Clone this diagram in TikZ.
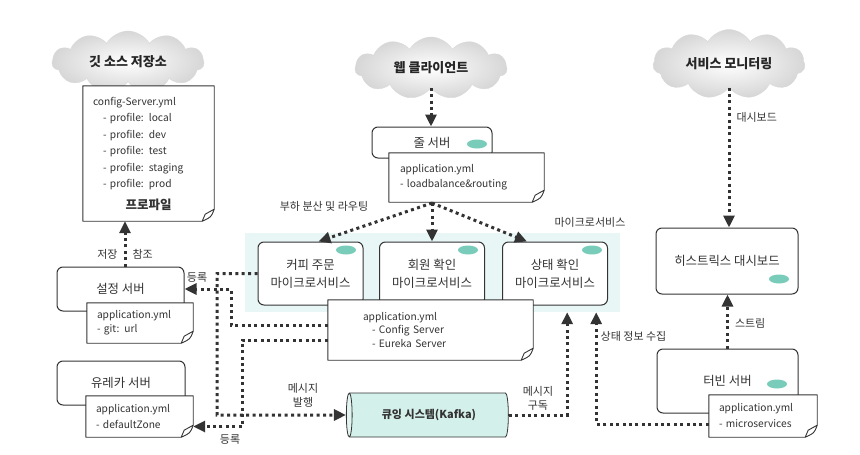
\documentclass[tikz,border=0pt]{standalone}
\usepackage{fontspec}
\setmainfont{Noto Sans CJK KR}
\usetikzlibrary{arrows.meta, shapes.geometric, shapes.symbols, calc}
\definecolor{LineGray}{RGB}{51,51,51}
\definecolor{MintDot}{RGB}{122,204,186}
\definecolor{GroupTint}{RGB}{232,247,246}
\definecolor{KafkaTint}{RGB}{212,240,234}

\tikzset{
  tag/.style={font=\fontsize{11}{14}\selectfont, text=LineGray, inner sep=2pt, align=center},
  sky/.style={cloud, cloud puffs=11, cloud puff arc=120, aspect=2.4, inner sep=0pt,
    minimum width=152pt, minimum height=62pt, draw=gray!30, shading=radial,
    inner color=white, outer color=gray!32, text=black!85,
    font=\bfseries\fontsize{13}{15}\selectfont},
  server/.style={draw=LineGray, line width=1pt, rounded corners=6pt, fill=white,
    align=center, inner sep=2pt, text=LineGray, font=\fontsize{12.4}{18}\selectfont},
  doc/.style={fill=white, align=left, inner xsep=10pt, inner ysep=0pt, text=LineGray,
    font=\fontsize{10.2}{15}\selectfont},
  mint/.style={ellipse, fill=MintDot, minimum width=20pt, minimum height=9pt, inner sep=0pt},
  group/.style={fill=GroupTint, inner sep=0pt},
  queue/.style={cylinder, shape border rotate=180, aspect=0.5, draw=LineGray, line width=0.8pt,
    cylinder uses custom fill, cylinder body fill=KafkaTint, cylinder end fill=KafkaTint!70,
    minimum width=44pt, minimum height=162pt, inner sep=0pt, text=LineGray,
    font=\bfseries\fontsize{11}{14}\selectfont},
  flow/.style={draw=LineGray, line width=3pt, dash pattern=on 3pt off 3.4pt,
    -{Triangle[length=12pt,width=11pt]}},
  docline/.style={draw=LineGray, line width=0.9pt, line join=round}
}

% folded sheet outline around a doc node
\newcommand{\foldedge}[1]{%
  \draw[docline] (#1.north west) -- (#1.north east) -- ([yshift=12pt]#1.south east)
    .. controls ([xshift=-3pt,yshift=4pt]#1.south east) .. ([xshift=-12pt]#1.south east)
    -- (#1.south west) -- cycle;
  \draw[docline] ([yshift=12pt]#1.south east)
    .. controls ([xshift=-5pt,yshift=10pt]#1.south east) .. ([xshift=-9pt,yshift=7pt]#1.south east)
    -- ([xshift=-12pt]#1.south east);
}

\begin{document}
\begin{tikzpicture}[x=1pt, y=-1pt]
\useasboundingbox (0,0) rectangle (860,455);

% microservice group
\node[group, minimum width=375pt, minimum height=79pt] (msgroup) at (432.5,272.5) {};

% clouds
\node[sky] (gitcloud) at (128,62) {깃 소스 저장소};
\node[sky] (webcloud) at (431,68) {웹 클라이언트};
\node[sky] (moncloud) at (729,64) {서비스 모니터링};

% servers
\node[server, minimum width=127pt, minimum height=44pt] (cfgsrv) at (120.5,289) {설정 서버};
\node[server, minimum width=128pt, minimum height=44pt] (eurekasrv) at (121,383) {유레카 서버};
\node[server, minimum width=120pt, minimum height=31pt] (zuul) at (432,142.5) {줄 서버};
\node[server, minimum width=105pt, minimum height=63pt] (coffee) at (310.5,273.5) {커피 주문\\마이크로서비스};
\node[server, minimum width=105pt, minimum height=63pt] (member) at (432,273.5) {회원 확인\\마이크로서비스};
\node[server, minimum width=105pt, minimum height=63pt] (status) at (555,273.5) {상태 확인\\마이크로서비스};
\node[server, minimum width=142pt, minimum height=66pt] (hystrix) at (727,261) {히스트릭스 대시보드};
\node[server, minimum width=141pt, minimum height=64pt] (turbine) at (727.5,381) {터빈 서버};

\foreach \spot/\x/\y in {zuuldot/477/144, coffeedot/346/250, memberdot/468/250,
    statusdot/592/250, hystrixdot/779/279, turbinedot/777/384}
  \node[mint] (\spot) at (\x,\y) {};

% documents
\node[doc, text width=111pt, minimum height=135pt, font=\fontsize{10.2}{16.5}\selectfont] (gitdoc) at (148.5,153.5)
  {config-Server.yml\\
   \hspace*{10pt}- profile: local\\
   \hspace*{10pt}- profile: dev\\
   \hspace*{10pt}- profile: test\\
   \hspace*{10pt}- profile: staging\\
   \hspace*{10pt}- profile: prod\\[5pt]
   \makebox[111pt]{\bfseries\fontsize{12.5}{15}\selectfont 프로파일}};
\node[doc, text width=86pt, minimum height=40pt, font=\fontsize{10.2}{14}\selectfont] (cfgdoc) at (140,323)
  {application.yml\\- git: url};
\node[doc, text width=87pt, minimum height=41pt, font=\fontsize{10.2}{16}\selectfont] (eurekadoc) at (139.5,416.5)
  {application.yml\\- defaultZone};
\node[doc, inner xsep=11pt, text width=133pt, minimum height=49pt] (zuuldoc) at (466.5,177.5)
  {application.yml\\- loadbalance\&routing};
\node[doc, inner xsep=35pt, text width=135pt, minimum height=60pt, font=\fontsize{10.2}{13.5}\selectfont] (msdoc) at (430.5,330)
  {application.yml\\\hspace*{9pt}- Config Server\\\hspace*{9pt}- Eureka Server};
\node[doc, text width=88pt, minimum height=42pt, font=\fontsize{10.2}{16}\selectfont] (turbinedoc) at (763,416)
  {application.yml\\- microservices};
\foreach \sheet in {gitdoc, cfgdoc, eurekadoc, zuuldoc, msdoc, turbinedoc}
  {\foldedge{\sheet}}

% queue
\node[queue] (kafka) at (429,415) {큐잉 시스템(Kafka)};

% web client and zuul
\draw[flow] (webcloud.south) -- (webcloud.south |- zuul.north);
\coordinate (zuulfork) at (432,203);
\draw[flow] (zuulfork) -- ([xshift=8pt]coffee.north);
\draw[flow] (zuulfork) -- (member.north);
\draw[flow] (zuulfork) -- ([xshift=-28pt]status.north);
\node[tag] (loadlbl) at (324,206) {부하 분산 및 라우팅};
\node[tag] (grouplbl) at (590,222) {마이크로서비스};

% config server
\coordinate (cfgtop) at ([xshift=4.5pt]cfgsrv.north);
\draw[flow] (cfgtop) -- (cfgtop |- gitdoc.south)
  node[tag, left=4pt, pos=0.26] (savelbl) {저장}
  node[tag, right=4pt, pos=0.26] (readlbl) {참조};

% monitoring
\draw[flow] (moncloud.south) -- (moncloud.south |- hystrix.north)
  node[tag, right=4pt, pos=0.21] (dashlbl) {대시보드};
\draw[flow] (turbine.north) -- (turbine.north |- hystrix.south)
  node[tag, right=4pt, pos=0.47] (streamlbl) {스트림};
\draw[flow] ([yshift=-8pt]turbinedoc.west) -| ([xshift=-24pt]msgroup.south east)
  node[tag, right=1pt, pos=0.89] (collectlbl) {상태 정보 수집};

% kafka messages
\draw[flow] (kafka.east) -| ([xshift=-53pt]msgroup.south east)
  node[tag, above=1pt, pos=0.25] (sublbl) {메시지\\구독};
\coordinate (pubbend) at (217,415);
\draw[flow] (coffee.west) -| (pubbend) -- (kafka.west);
\node[tag] (publbl) at (303,395) {메시지\\발행};

% registration
\coordinate (cfgbend) at (231,289);
\draw[flow] ([yshift=5pt]msdoc.west) -| (cfgbend) -- (cfgsrv.east);
\node[tag] (reglbl) at (197,277) {등록};
\coordinate (eurbend) at (242,426.5);
\draw[flow] ([yshift=-10pt]msdoc.west) -| (eurbend) -- (eurbend -| eurekadoc.east);
\node[tag] (eurreglbl) at (230,439) {등록};
\end{tikzpicture}
\end{document}
